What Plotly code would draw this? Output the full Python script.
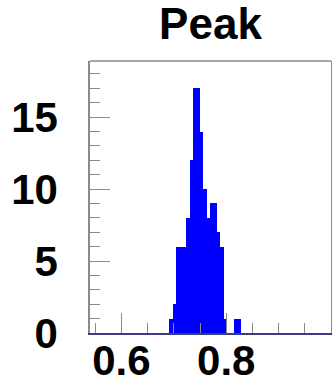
import plotly.graph_objects as go

# Histogram of fitted peak positions (fixed-width bins)
bin_start = 0.691
bin_width = 0.0065
counts = [1, 2, 6, 6, 6, 8, 12, 17, 17, 14, 10, 8, 9, 9, 7, 6, 1, 0, 0, 1, 1]

x_range = [0.54, 1.0]
y_range = [0, 18.9]
x_ticks = [0.6, 0.8]
x_tick_labels = ["0.6", "0.8"]
y_ticks = [0, 5, 10, 15]
y_tick_labels = ["0", "5", "10", "15"]

centers = [bin_start + (i + 0.5) * bin_width for i in range(len(counts))]

fig = go.Figure()
fig.add_trace(go.Bar(
    x=centers,
    y=counts,
    width=bin_width,
    marker=dict(color="#0000ff", line=dict(width=0)),
    hoverinfo="skip",
))

font_family = "Liberation Sans, Arial, Helvetica, sans-serif"
frame_grey = "#8a8a8a"

fig.update_layout(
    width=332,
    height=383,
    margin=dict(l=90, r=1, t=61, b=50, pad=0, autoexpand=False),
    paper_bgcolor="white",
    plot_bgcolor="white",
    showlegend=False,
    bargap=0,
    title=dict(
        text="Peak",
        font=dict(family=font_family, size=44, color="black", weight="bold"),
        x=0.5,
        xref="paper",
        xanchor="center",
        y=1 - 24 / 383,
        yref="container",
        yanchor="middle",
        automargin=False,
    ),
    xaxis=dict(
        range=x_range,
        tickmode="array",
        tickvals=x_ticks,
        ticktext=x_tick_labels,
        ticks="inside",
        ticklen=20,
        tickwidth=1,
        tickcolor=frame_grey,
        minor=dict(dtick=0.05, tick0=0.5, ticks="inside", ticklen=10,
                   tickwidth=1, tickcolor=frame_grey),
        showline=True,
        linecolor="#3c3c84",
        linewidth=2,
        mirror=False,
        showgrid=False,
        zeroline=False,
        automargin=False,
        tickfont=dict(family=font_family, size=42, color="black", weight="bold"),
        ticklabelstandoff=-10,
        fixedrange=True,
    ),
    yaxis=dict(
        range=y_range,
        tickmode="array",
        tickvals=y_ticks,
        ticktext=y_tick_labels,
        ticks="inside",
        ticklen=20,
        tickwidth=1,
        tickcolor=frame_grey,
        minor=dict(dtick=1, tick0=0, ticks="inside", ticklen=10,
                   tickwidth=1, tickcolor=frame_grey),
        showline=True,
        linecolor=frame_grey,
        linewidth=1.5,
        mirror=True,
        showgrid=False,
        zeroline=False,
        automargin=False,
        tickfont=dict(family=font_family, size=42, color="black", weight="bold"),
        ticklabelstandoff=22,
        fixedrange=True,
    ),
)

# top edge of the frame
fig.add_shape(type="line", xref="x domain", yref="y domain",
              x0=0, x1=1, y0=1, y1=1,
              line=dict(color=frame_grey, width=1.5))

fig.write_html("out.html")
